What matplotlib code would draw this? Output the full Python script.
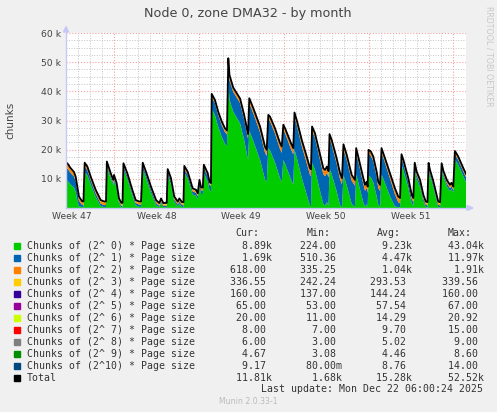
import numpy as np
import matplotlib
matplotlib.use("Agg")
import matplotlib.pyplot as plt
from matplotlib.patches import Rectangle, Polygon
from matplotlib.lines import Line2D

W, H = 497, 412

# time of each sample, days since the left edge of the graph
days = [0.00, 0.11, 0.39, 0.66, 0.80, 0.93, 1.07, 1.34, 1.44,
        1.54, 1.76, 2.04, 2.45, 2.86, 3.14, 3.30,
        3.37, 3.69, 3.90, 3.96, 4.18, 4.37, 4.56, 4.66,
        4.74, 5.06, 5.47, 5.75, 6.02, 6.19,
        6.33, 6.60, 7.01, 7.43, 7.70, 7.84, 8.03, 8.31,
        8.39, 8.66, 8.93, 9.22, 9.35, 9.57, 9.69,
        9.76, 10.04, 10.45, 10.73, 10.87, 11.01, 11.15, 11.29,
        11.37, 11.69, 11.84, 11.96,
        12.02, 12.29, 12.56, 12.85, 13.12, 13.28,
        13.39, 13.49, 13.80, 14.36, 14.69, 15.02,
        15.12, 15.45, 16.01, 16.42, 16.56,
        16.69, 16.83, 17.24, 17.66, 17.80,
        17.93, 18.07, 18.34, 18.62, 18.75,
        18.85, 19.03, 19.45, 19.86, 20.13, 20.21,
        20.30, 20.54, 20.96, 21.23, 21.37, 21.53, 21.66,
        21.74, 21.92, 22.33, 22.61, 22.77,
        22.89, 23.16, 23.57, 23.84,
        23.94, 24.11, 24.53, 24.67, 24.81, 24.89,
        24.96, 25.14, 25.35, 25.63, 25.76, 25.91,
        26.03, 26.32, 26.73, 27.14, 27.41, 27.56,
        27.68, 27.83, 28.24, 28.52, 28.65,
        28.77, 28.93, 29.21, 29.48, 29.68, 29.82,
        29.91, 30.03, 30.28, 30.57, 30.71, 30.86,
        30.99, 31.14, 31.43, 31.68, 31.80, 31.95,
        32.09, 32.36, 32.78, 33.00]

# chunks of order 0, 1 and 2 (thousands)
order0_k = [9.5, 9.4, 8.0, 7.0, 5.5, 2.6, 0.6, 0.3, 0.3,
            12.3, 11.2, 8.0, 3.8, 0.7, 0.3, 0.3,
            13.9, 10.1, 7.8, 9.5, 6.7, 1.6, 0.2, 0.2,
            13.2, 9.9, 4.3, 0.9, 0.4, 0.4,
            13.2, 10.2, 5.2, 0.9, 0.25, 1.8, 0.25, 0.3,
            11.2, 8.2, 2.1, 0.5, 1.5, 0.3, 0.3,
            12.2, 10.2, 4.6, 4.2, 3.0, 7.4, 4.8, 4.8,
            12.0, 9.0, 6.1, 5.6,
            34.0, 31.8, 27.8, 24.4, 22.0, 21.2,
            43.0, 37.0, 33.0, 29.0, 23.5, 16.5,
            26.5, 23.0, 16.5, 9.8, 8.8,
            20.5, 19.8, 15.6, 10.2, 8.9,
            16.5, 15.2, 12.2, 9.2, 8.0,
            20.0, 17.4, 10.3, 4.6, 0.8, 0.4,
            15.5, 13.1, 5.8, 1.3, 0.8, 2.0, 0.6,
            13.5, 11.6, 5.7, 1.0, 0.3,
            11.2, 7.8, 1.4, 0.3,
            11.5, 8.8, 1.9, 0.4, 1.3, 0.3,
            11.0, 10.6, 8.8, 4.0, 1.2, 0.3,
            11.5, 8.5, 4.0, 0.5, 0.3, 0.2,
            14.8, 13.0, 6.9, 1.6, 0.7,
            13.0, 9.9, 7.2, 2.3, 0.3, 0.2,
            13.4, 11.0, 7.5, 2.5, 0.3, 0.2,
            13.2, 10.5, 7.4, 5.8, 6.5, 5.2,
            16.6, 14.8, 10.9, 8.89]

order1_k = [4.3, 4.2, 4.0, 3.8, 3.7, 3.2, 1.8, 0.7, 0.7,
            2.0, 1.8, 1.5, 1.2, 0.8, 0.7, 0.7,
            0.9, 0.8, 0.8, 0.8, 0.8, 0.7, 0.6, 0.6,
            1.1, 1.0, 0.9, 0.8, 0.8, 0.8,
            1.3, 1.2, 1.1, 0.8, 0.5, 0.5, 0.5, 0.55,
            1.1, 1.0, 0.8, 0.7, 0.8, 0.7, 0.7,
            1.2, 1.2, 1.1, 1.0, 1.0, 1.2, 1.2, 1.2,
            1.8, 1.9, 1.9, 1.9,
            4.0, 4.1, 4.0, 4.0, 4.0, 4.0,
            6.5, 6.8, 6.8, 7.0, 7.0, 7.2,
            9.5, 9.5, 9.5, 9.2, 9.0,
            10.0, 10.0, 10.0, 10.0, 10.0,
            10.5, 10.5, 10.5, 10.4, 10.4,
            11.2, 11.2, 11.0, 10.8, 10.6, 10.5,
            11.0, 11.0, 10.6, 10.3, 10.1, 10.1, 9.9,
            10.3, 10.1, 9.5, 8.9, 7.8,
            9.0, 8.7, 8.0, 7.3,
            7.5, 7.2, 6.4, 5.5, 5.6, 4.9,
            7.5, 7.4, 7.3, 6.6, 5.8, 5.5,
            7.6, 7.0, 6.1, 4.2, 1.7, 1.4,
            2.3, 2.2, 2.0, 1.5, 1.3,
            1.3, 1.3, 1.2, 1.0, 0.8, 0.7,
            0.9, 0.9, 0.9, 0.9, 0.8, 0.7,
            1.0, 1.0, 1.0, 1.0, 1.0, 1.0,
            1.8, 1.7, 1.6, 1.69]

order2_k = [1.2, 1.2, 1.1, 1.0, 1.0, 1.0, 1.0, 0.7, 0.7,
            0.7, 0.7, 0.7, 0.7, 0.7, 0.7, 0.7,
            0.6, 0.5, 0.5, 0.5, 0.5, 0.5, 0.45, 0.45,
            0.5, 0.5, 0.5, 0.5, 0.5, 0.5,
            0.5, 0.5, 0.5, 0.5, 0.4, 0.45, 0.4, 0.4,
            0.5, 0.5, 0.5, 0.45, 0.45, 0.45, 0.45,
            0.5, 0.5, 0.5, 0.5, 0.5, 0.5, 0.5, 0.5,
            0.5, 0.5, 0.5, 0.5,
            0.6, 0.6, 0.65, 0.7, 0.75, 0.8,
            1.3, 1.2, 0.9, 1.0, 1.0, 1.1,
            1.1, 1.2, 1.4, 1.5, 1.6,
            0.9, 1.0, 1.2, 1.5, 1.6,
            1.0, 1.1, 1.3, 1.5, 1.6,
            1.0, 1.1, 1.5, 1.7, 1.7, 1.8,
            0.9, 1.0, 1.3, 1.5, 1.6, 1.6, 1.6,
            1.0, 1.1, 1.3, 1.5, 1.6,
            1.1, 1.2, 1.4, 1.5,
            1.0, 1.1, 1.4, 1.5, 1.6, 1.6,
            0.9, 0.9, 1.0, 1.3, 1.5, 1.6,
            0.9, 1.0, 1.3, 1.5, 1.4, 1.3,
            0.8, 0.8, 0.8, 0.9, 0.9,
            0.7, 0.7, 0.7, 0.7, 0.6, 0.6,
            0.6, 0.6, 0.6, 0.6, 0.6, 0.55,
            0.6, 0.6, 0.6, 0.6, 0.6, 0.6,
            0.6, 0.6, 0.6, 0.618]

labels = ["Chunks of (2^%2d) * Page size" % i for i in range(11)]
colors = ["#00CC00", "#0066B3", "#FF8000", "#FFCC00", "#330099", "#990099",
          "#CCFF00", "#FF0000", "#808080", "#008F00", "#00487D"]

# legend statistics as printed under the graph
cur_vals = [8890, 1690, 618.00, 336.55, 160.00, 65.00, 20.00, 8.00, 6.00, 4.67, 9.17]
min_vals = [224.00, 510.36, 335.25, 242.24, 137.00, 53.00, 11.00, 7.00, 3.00, 3.08, 0.08]
avg_vals = [9230, 4470, 1040, 293.53, 144.24, 57.54, 14.29, 9.70, 5.02, 4.46, 8.76]
max_vals = [43040, 11970, 1910, 339.56, 160.00, 67.00, 20.92, 15.00, 9.00, 8.60, 14.00]
total_stats = [11810, 1680, 15280, 52520]

week_labels = ["Week 47", "Week 48", "Week 49", "Week 50", "Week 51"]
first_week_start = 3.96


def fmt(v):
    if v >= 1000:
        return "%6.2fk" % (v / 1000)
    if v < 1:
        return "%6.2fm" % (v * 1000)
    return "%6.2f " % v


def fx(px):
    return px / W


def fy(py):
    return 1 - py / H


t = np.array(days)
layers = [np.array(order0_k) * 1000, np.array(order1_k) * 1000, np.array(order2_k) * 1000]
# the small orders are nearly flat, drawn at their average
for v in avg_vals[3:]:
    layers.append(np.full(len(t), v))
total = np.sum(layers, axis=0)

fig = plt.figure(figsize=(W / 100, H / 100), dpi=100, facecolor="#F0F0F0")
ax = fig.add_axes([fx(66), fy(208), 400 / W, 175 / H])
ax.set_facecolor("white")
for s in ax.spines.values():
    s.set_visible(False)

# grid
dots = (0, (1, 1.6))
for d in np.arange(first_week_start - 3, 33, 1.0):
    if abs((d - first_week_start) % 7) > 0.01:
        ax.axvline(d, color="#C4C4C4", lw=0.7, ls=dots, zorder=0)
for y in np.arange(2500, 60000, 2500):
    if y % 10000:
        ax.axhline(y, color="#C4C4C4", lw=0.7, ls=dots, zorder=0)
for d in np.arange(first_week_start, 33, 7):
    ax.axvline(d, color="#F2A0A0", lw=0.8, ls=dots, zorder=0.5)
for y in range(10000, 60001, 10000):
    ax.axhline(y, color="#F2A0A0", lw=0.8, ls=dots, zorder=0.5)

ax.stackplot(t, layers, colors=colors, linewidth=0, zorder=2)
ax.plot(t, total, color="black", lw=1.3, zorder=3)

ax.set_xlim(0, 33)
ax.set_ylim(0, 60000)
ax.set_yticks(range(10000, 60001, 10000))
ax.set_yticklabels(["%d k" % (v // 1000) for v in range(10000, 60001, 10000)])
ax.set_xticks([first_week_start - 3.5 + 7 * i for i in range(len(week_labels))])
ax.set_xticklabels(week_labels)
ax.tick_params(axis="y", length=0, pad=3.6, labelsize=6.7, labelcolor="#444444")
ax.tick_params(axis="x", length=0, pad=2.6, labelsize=6.6, labelcolor="#444444")

# axes with arrows
axis_col = "#C8C8F8"
fig.add_artist(Line2D([fx(66), fx(66)], [fy(208), fy(30)], color=axis_col, lw=1))
fig.add_artist(Line2D([fx(66), fx(468)], [fy(208), fy(208)], color=axis_col, lw=1))
fig.add_artist(Polygon([(fx(63.5), fy(32)), (fx(68.5), fy(32)), (fx(66), fy(26.5))],
                       closed=True, color=axis_col, transform=fig.transFigure))
fig.add_artist(Polygon([(fx(467), fy(205.5)), (fx(467), fy(210.5)), (fx(473), fy(208))],
                       closed=True, color=axis_col, transform=fig.transFigure))

fig.text(fx(248), fy(14), "Node 0, zone DMA32 - by month", ha="center", va="center",
         fontsize=9.2, color="#444444")
fig.text(fx(10), fy(120), "chunks", rotation=90, ha="center", va="center",
         fontsize=7.5, color="#444444")
fig.text(fx(488.5), fy(56), "RRDTOOL / TOBI OETIKER", rotation=270, ha="center",
         va="center", fontsize=5.7, color="#C8C8C8")

# legend
mono = dict(family="DejaVu Sans Mono", fontsize=7.15, color="#333333", va="center")
cols_x = [229.5, 300.5, 370.5, 441.7]
for x, head in zip(cols_x, ["Cur:", "Min:", "Avg:", "Max:"]):
    fig.text(fx(x + 6), fy(233.3), head, **mono)

rows = [(labels[i], colors[i], [cur_vals[i], min_vals[i], avg_vals[i], max_vals[i]])
        for i in range(11)]
rows.append(("Total", "#000000", total_stats))
for i, (name, col, stats) in enumerate(rows):
    y = 245.7 + 12 * i
    fig.add_artist(Rectangle((fx(14.3), fy(y + 2.9)), 5.8 / W, 5.8 / H, color=col,
                             transform=fig.transFigure))
    fig.text(fx(26.7), fy(y), name, **mono)
    for x, v in zip(cols_x, stats):
        fig.text(fx(x), fy(y), fmt(v), **mono)

fig.text(fx(482.7), fy(389.3), "Last update: Mon Dec 22 06:00:24 2025", ha="right",
         family="DejaVu Sans Mono", fontsize=7.15, color="#333333", va="center")
fig.text(fx(248.3), fy(401), "Munin 2.0.33-1", ha="center", va="center",
         fontsize=5.6, color="#BBBBBB")

fig.savefig("out.png", dpi=100, facecolor=fig.get_facecolor())
